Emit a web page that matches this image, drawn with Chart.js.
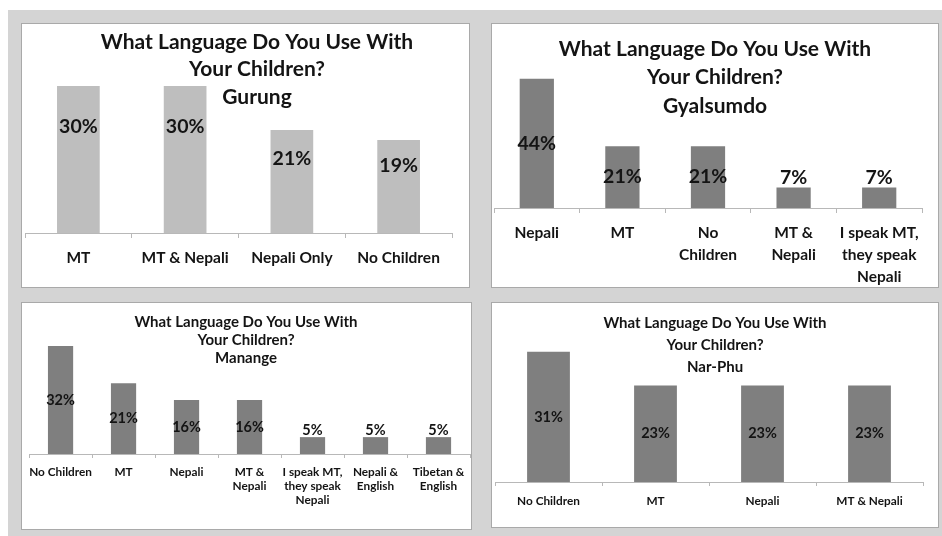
<!DOCTYPE html>
<html>
<head>
<meta charset="utf-8">
<script src="https://cdn.jsdelivr.net/npm/chart.js@4.4.1/dist/chart.umd.min.js"></script>
<style>
  body { margin: 0; background: #ffffff; }
  #sheet { position: absolute; left: 8px; top: 10px; width: 934px; height: 526px; background: #d4d4d4; }
  .panel { position: absolute; background: #ffffff; border: 1px solid #a9a9a9; }
  .panel canvas { display: block; }
</style>
</head>
<body>
<div id="sheet"></div>
<div class="panel" style="left:21px; top:23px;"><canvas id="gurung" width="447" height="263"></canvas></div>
<div class="panel" style="left:491px; top:23px;"><canvas id="gyalsumdo" width="446" height="263"></canvas></div>
<div class="panel" style="left:21px; top:302px;"><canvas id="manange" width="449" height="226"></canvas></div>
<div class="panel" style="left:491px; top:302px;"><canvas id="narphu" width="446" height="224"></canvas></div>
<script>
// Survey answers, percent of respondents per community
const gurungCategories = ['MT', 'MT & Nepali', 'Nepali Only', 'No Children'];
const gurungValues = [30, 30, 21, 19];

const gyalsumdoCategories = ['Nepali', 'MT', ['No', 'Children'], ['MT &', 'Nepali'], ['I speak MT,', 'they speak', 'Nepali']];
const gyalsumdoValues = [44, 21, 21, 7, 7];

const manangeCategories = ['No Children', 'MT', 'Nepali', ['MT &', 'Nepali'], ['I speak MT,', 'they speak', 'Nepali'], ['Nepali &', 'English'], ['Tibetan &', 'English']];
const manangeValues = [32, 21, 16, 16, 5, 5, 5];

const narPhuCategories = ['No Children', 'MT', 'Nepali', 'MT & Nepali'];
const narPhuValues = [31, 23, 23, 23];

const QUESTION = ['What Language Do You Use With', 'Your Children?'];
const FONT = 'Lato, "Open Sans", sans-serif';
const INK = '#141414';

function makePanel(id, categories, values, community, s) {
  // title sits over the plot, so it is painted by hand instead of using the title plugin
  const titlePlugin = {
    id: 'panelTitle',
    afterDraw(chart) {
      const ctx = chart.ctx;
      ctx.save();
      ctx.font = `bold ${s.titleSize}px ${FONT}`;
      ctx.fillStyle = INK;
      ctx.textAlign = 'center';
      ctx.textBaseline = 'middle';
      QUESTION.concat([community]).forEach((line, i) => {
        ctx.fillText(line, s.titleX, s.titleY + i * s.titleGap);
      });
      ctx.restore();
    }
  };

  // percent labels: inside the bar for tall bars, just above it for short ones
  const labelPlugin = {
    id: 'valueLabels',
    afterDatasetsDraw(chart) {
      const ctx = chart.ctx;
      const meta = chart.getDatasetMeta(0);
      ctx.save();
      ctx.font = `bold ${s.labelSize}px ${FONT}`;
      ctx.fillStyle = INK;
      ctx.textAlign = 'center';
      ctx.textBaseline = 'middle';
      meta.data.forEach((bar, i) => {
        const h = bar.base - bar.y;
        const y = h < 30 ? bar.y - s.labelSize * 0.5 : bar.base - h * s.labelFrac;
        ctx.fillText(values[i] + '%', bar.x, y);
      });
      ctx.restore();
    }
  };

  return new Chart(document.getElementById(id), {
    type: 'bar',
    data: {
      labels: categories,
      datasets: [{
        data: values,
        backgroundColor: s.barColor,
        borderWidth: 0,
        categoryPercentage: 1,
        barPercentage: 0.4
      }]
    },
    options: {
      responsive: false,
      animation: false,
      layout: { padding: { top: s.padTop, left: s.padLeft, right: s.padRight, bottom: 0 } },
      plugins: { legend: { display: false }, tooltip: { enabled: false } },
      scales: {
        y: { display: false, min: 0, max: s.yMax },
        x: {
          afterFit(scale) { scale.height = s.axisHeight; },
          border: { display: true, color: '#b8b8b8', width: 1 },
          grid: { drawOnChartArea: false, color: '#b8b8b8', tickLength: s.tickLength },
          ticks: {
            color: INK,
            padding: s.tickPad,
            maxRotation: 0,
            autoSkip: false,
            font: { family: FONT, weight: 'bold', size: s.catSize, lineHeight: s.catLine }
          }
        }
      }
    },
    plugins: [labelPlugin, titlePlugin]
  });
}

makePanel('gurung', gurungCategories, gurungValues, 'Gurung', {
  barColor: '#bebebe', yMax: 40, padTop: 13, padLeft: 3, padRight: 17, axisHeight: 54,
  tickLength: 5, tickPad: 11, catSize: 15.5, catLine: 1.2,
  labelSize: 19.5, labelFrac: 0.72,
  titleSize: 21, titleX: 235, titleY: 18, titleGap: 27.5
});

makePanel('gyalsumdo', gyalsumdoCategories, gyalsumdoValues, 'Gyalsumdo', {
  barColor: '#7f7f7f', yMax: 50, padTop: 37, padLeft: 2, padRight: 16, axisHeight: 79,
  tickLength: 5, tickPad: 9, catSize: 15.5, catLine: 1.42,
  labelSize: 19.5, labelFrac: 0.5,
  titleSize: 21, titleX: 223, titleY: 25, titleGap: 28.5
});

makePanel('manange', manangeCategories, manangeValues, 'Manange', {
  barColor: '#7f7f7f', yMax: 40, padTop: 16, padLeft: 2, padRight: 1, axisHeight: 75,
  tickLength: 4, tickPad: 7, catSize: 11.8, catLine: 1.2,
  labelSize: 14.5, labelFrac: 0.5,
  titleSize: 15, titleX: 224, titleY: 19, titleGap: 18
});

makePanel('narphu', narPhuCategories, narPhuValues, 'Nar-Phu', {
  barColor: '#7f7f7f', yMax: 35, padTop: 32, padLeft: 3, padRight: 15, axisHeight: 45,
  tickLength: 4, tickPad: 8, catSize: 11.8, catLine: 1.2,
  labelSize: 14.5, labelFrac: 0.5,
  titleSize: 15, titleX: 223, titleY: 20, titleGap: 22
});
</script>
</body>
</html>
